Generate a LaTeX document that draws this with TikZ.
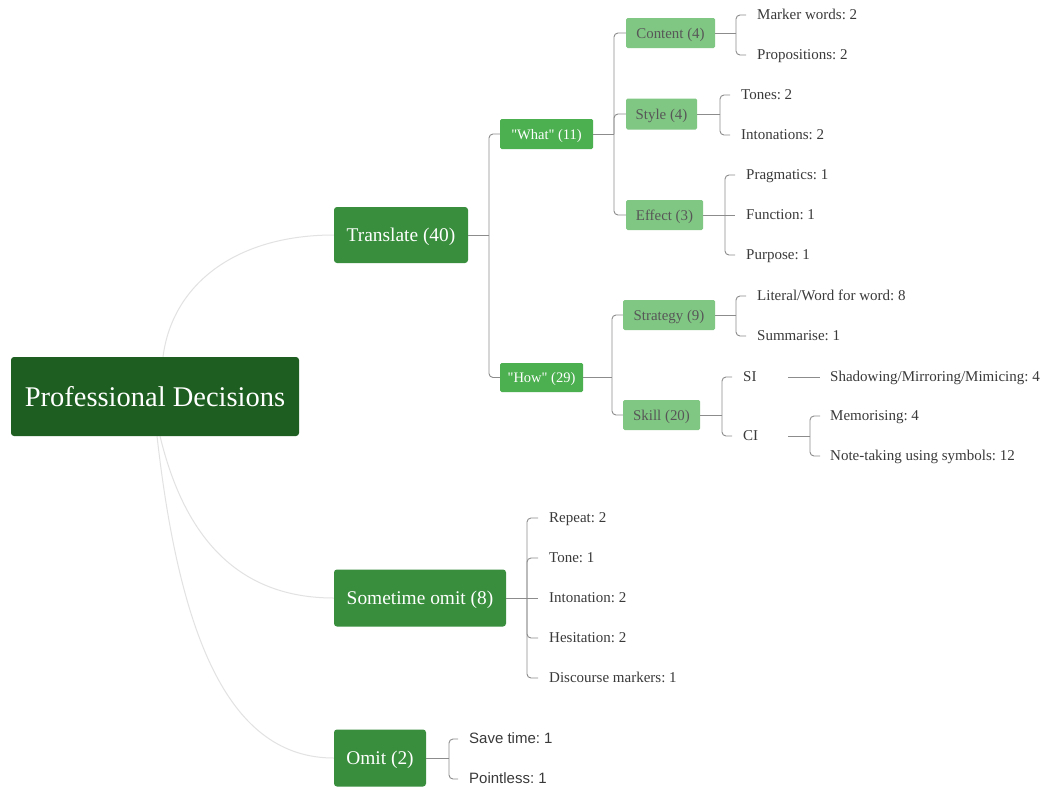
\documentclass[tikz,border=0pt]{standalone}
\usepackage{fontspec}
\setmainfont{Liberation Serif}
\newfontfamily\sansf{Liberation Sans}
\frenchspacing
\definecolor{rootc}{HTML}{1E5E20}
\definecolor{lvone}{HTML}{388E3C}
\definecolor{lvtwo}{HTML}{4CAF50}
\definecolor{lvthree}{HTML}{81C784}
\definecolor{linec}{HTML}{8C8C8C}
\definecolor{curvec}{HTML}{E2E2E2}
\definecolor{leaftxt}{HTML}{3A3A3A}
\tikzset{
  box/.style={rounded corners=3pt, inner sep=0pt, align=center, text depth=0pt},
  rootbox/.style={box, fill=rootc, text=white, font=\fontsize{28.5}{32}\selectfont},
  onebox/.style={box, fill=lvone, text=white, font=\fontsize{19.4}{23}\selectfont},
  twobox/.style={box, fill=lvtwo, text=white, font=\fontsize{14.5}{17}\selectfont, rounded corners=1.5pt},
  threebox/.style={box, fill=lvthree, text=leaftxt!85, font=\fontsize{14.9}{17}\selectfont, rounded corners=1.5pt},
  leaf/.style={anchor=west, inner sep=0pt, text=leaftxt, text depth=1pt, font=\fontsize{15}{18}\selectfont},
  sleaf/.style={leaf, font=\sansf\fontsize{15}{18}\selectfont},
  conn/.style={draw=linec, line width=0.9pt, rounded corners=4pt},
  curve/.style={draw=curvec, line width=1pt}
}
\begin{document}
\begin{tikzpicture}[x=1pt,y=-1pt]
\fill[white] (0,0) rectangle (1040,787);
\useasboundingbox (0,0) rectangle (1040,787);

% curves from root
\coordinate (c1) at (163,357);
\coordinate (c2) at (160,436);
\coordinate (c3) at (157,436);
\node[onebox, minimum width=134pt, minimum height=56pt] (tr) at (401,235) {Translate (40)};
\node[onebox, minimum width=172pt, minimum height=57pt] (so) at (420,598) {Sometime omit (8)};
\node[onebox, minimum width=92pt, minimum height=57pt] (om) at (380,758) {Omit (2)};
\draw[curve] (c1) .. controls (172,285) and (235,235) .. (tr.west);
\draw[curve] (c2) .. controls (185,540) and (240,598) .. (so.west);
\draw[curve] (c3) .. controls (180,640) and (230,758) .. (om.west);
\node[rootbox, minimum width=288pt, minimum height=79pt] (root) at (155,396.5) {Professional Decisions};

% level 2
\node[twobox, minimum width=93pt, minimum height=30pt] (what) at (546.5,134) {\textquotedbl What\textquotedbl{} (11)};
\node[twobox, minimum width=83pt, minimum height=29pt] (how) at (541.5,377.5) {\textquotedbl How\textquotedbl{} (29)};
% level 3
\node[threebox, minimum width=89pt, minimum height=30pt] (cont) at (670.5,33) {Content (4)};
\node[threebox, minimum width=71pt, minimum height=31pt] (sty) at (661.5,114) {Style (4)};
\node[threebox, minimum width=77pt, minimum height=30pt] (eff) at (664.5,215) {Effect (3)};
\node[threebox, minimum width=92pt, minimum height=30pt] (strat) at (669,315) {Strategy (9)};
\node[threebox, minimum width=77pt, minimum height=30pt] (skill) at (661.5,415) {Skill (20)};

% leaves
\node[leaf] (l1) at (757,15) {Marker words: 2};
\node[leaf] (l2) at (757,55) {Propositions: 2};
\node[leaf] (l3) at (741,95) {Tones: 2};
\node[leaf] (l4) at (741,135) {Intonations: 2};
\node[leaf] (l5) at (746,175) {Pragmatics: 1};
\node[leaf] (l6) at (746,215) {Function: 1};
\node[leaf] (l7) at (746,255) {Purpose: 1};
\node[leaf] (l8) at (757,296) {Literal/Word for word: 8};
\node[leaf] (l9) at (757,336) {Summarise: 1};
\node[leaf] (si) at (743,377) {SI};
\node[leaf] (ci) at (743,436) {CI};
\node[leaf] (l10) at (830,377) {Shadowing/Mirroring/Mimicing: 4};
\node[leaf] (l11) at (830,416) {Memorising: 4};
\node[leaf] (l12) at (830,456) {Note-taking using symbols: 12};
\node[leaf] (s1) at (549,518) {Repeat: 2};
\node[leaf] (s2) at (549,558) {Tone: 1};
\node[leaf] (s3) at (549,598) {Intonation: 2};
\node[leaf] (s4) at (549,638) {Hesitation: 2};
\node[leaf] (s5) at (549,678) {Discourse markers: 1};
\node[sleaf] (o1) at (469,739) {Save time: 1};
\node[sleaf] (o2) at (469,779) {Pointless: 1};

% junctions
\coordinate (jtr) at (489,235);
\coordinate (jwh) at (614,134);
\coordinate (jho) at (612,377.5);
\coordinate (jco) at (736,33);
\coordinate (jst) at (720,114);
\coordinate (jef) at (725,215);
\coordinate (jsg) at (736,315);
\coordinate (jsk) at (722,415);
\coordinate (jci) at (810,436);
\coordinate (jso) at (527,598);
\coordinate (jom) at (449,758);

% connectors
\draw[conn] (tr.east) -- (jtr);
\draw[conn] (jtr) |- (what.west);
\draw[conn] (jtr) |- (how.west);
\draw[conn] (what.east) -- (jwh);
\draw[conn] (jwh) |- (cont.west);
\draw[conn] (jwh) |- (sty.west);
\draw[conn] (jwh) |- (eff.west);
\draw[conn] (how.east) -- (jho);
\draw[conn] (jho) |- (strat.west);
\draw[conn] (jho) |- (skill.west);
\draw[conn] (cont.east) -- (jco);
\draw[conn] (jco) |- ([xshift=-11pt]l1.west);
\draw[conn] (jco) |- ([xshift=-11pt]l2.west);
\draw[conn] (sty.east) -- (jst);
\draw[conn] (jst) |- ([xshift=-11pt]l3.west);
\draw[conn] (jst) |- ([xshift=-11pt]l4.west);
\draw[conn] (eff.east) -- (jef);
\draw[conn] (jef) |- ([xshift=-11pt]l5.west);
\draw[conn] (jef) -- ([xshift=-11pt]l6.west);
\draw[conn] (jef) |- ([xshift=-11pt]l7.west);
\draw[conn] (strat.east) -- (jsg);
\draw[conn] (jsg) |- ([xshift=-11pt]l8.west);
\draw[conn] (jsg) |- ([xshift=-11pt]l9.west);
\draw[conn] (skill.east) -- (jsk);
\draw[conn] (jsk) |- ([xshift=-11pt]si.west);
\draw[conn] (jsk) |- ([xshift=-11pt]ci.west);
\draw[conn] ([xshift=45pt]si.west) -- ([xshift=-10pt]l10.west);
\draw[conn] ([xshift=45pt]ci.west) -- (jci);
\draw[conn] (jci) |- ([xshift=-10pt]l11.west);
\draw[conn] (jci) |- ([xshift=-10pt]l12.west);
\draw[conn] (so.east) -- (jso);
\foreach \n in {s1,s2,s4,s5} \draw[conn] (jso) |- ([xshift=-11pt]\n.west);
\draw[conn] (jso) -- ([xshift=-11pt]s3.west);
\draw[conn] (om.east) -- (jom);
\draw[conn] (jom) |- ([xshift=-11pt]o1.west);
\draw[conn] (jom) |- ([xshift=-11pt]o2.west);
\end{tikzpicture}
\end{document}
